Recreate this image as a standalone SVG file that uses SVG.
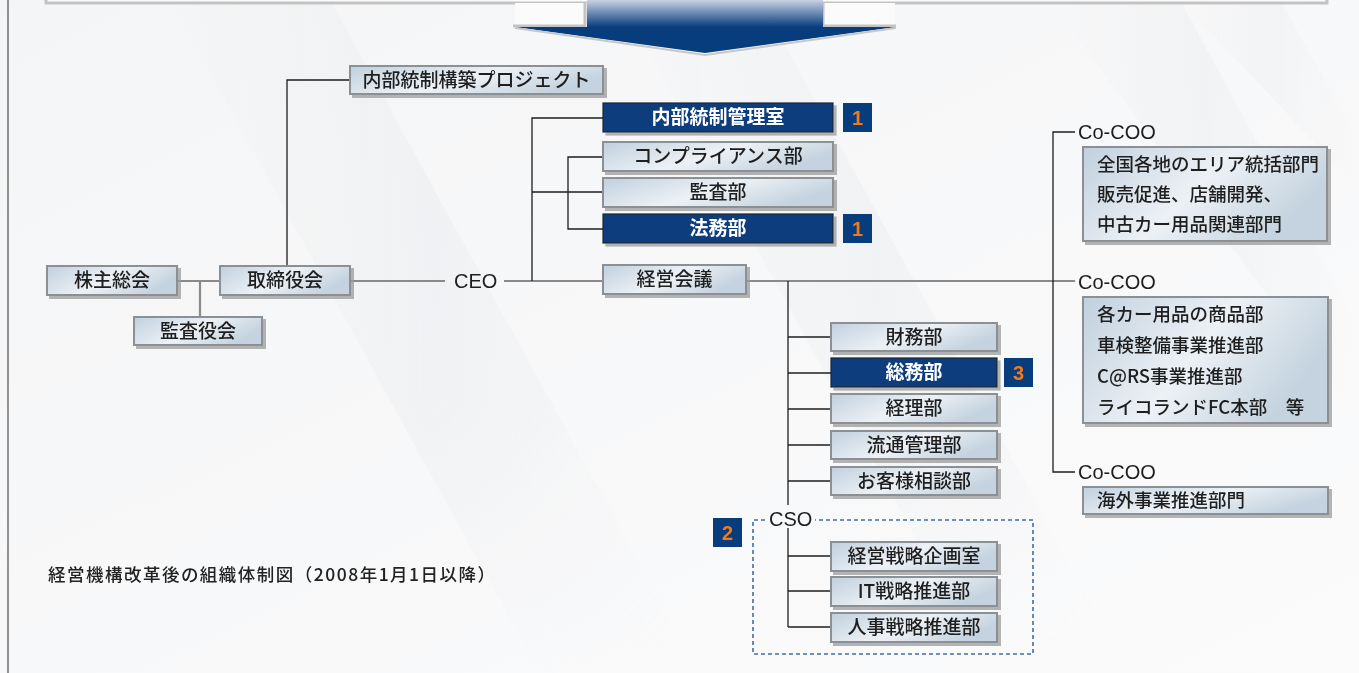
<svg xmlns="http://www.w3.org/2000/svg" width="1359" height="673" viewBox="0 0 1359 673">
<defs>
<linearGradient id="bg" x1="0" y1="0" x2="1" y2="1">
<stop offset="0" stop-color="#f4f5f6"/><stop offset="1" stop-color="#fbfbfc"/>
</linearGradient>
<linearGradient id="band" x1="0" y1="0" x2="1" y2="0">
<stop offset="0" stop-color="#e9ecef" stop-opacity="0"/><stop offset="0.5" stop-color="#e6e9ec" stop-opacity="0.8"/><stop offset="1" stop-color="#e9ecef" stop-opacity="0"/>
</linearGradient>
<linearGradient id="fade" x1="0" y1="0" x2="0" y2="1">
<stop offset="0" stop-color="#fff"/><stop offset="0.6" stop-color="#fff"/><stop offset="1" stop-color="#000"/>
</linearGradient>
<mask id="fm"><rect x="0" y="0" width="1359" height="673" fill="url(#fade)"/></mask>
<linearGradient id="lb" x1="0" y1="0" x2="1" y2="0.4">
<stop offset="0" stop-color="#c0d0de"/><stop offset="0.55" stop-color="#edf1f5"/><stop offset="1" stop-color="#c4d3df"/>
</linearGradient>
<linearGradient id="arr" x1="0" y1="0" x2="0" y2="1">
<stop offset="0" stop-color="#c9d1e2"/><stop offset="1" stop-color="#083e80"/>
</linearGradient>
<filter id="sh" x="-5%" y="-20%" width="115%" height="150%">
<feOffset dx="3" dy="3" in="SourceAlpha" result="o"/>
<feFlood flood-color="#9a9a9a" flood-opacity="0.75"/>
<feComposite in2="o" operator="in"/>
<feMerge><feMergeNode/><feMergeNode in="SourceGraphic"/></feMerge>
</filter>
</defs>
<style>
.light{fill:url(#lb);stroke:#8b9095;stroke-width:2;filter:url(#sh)}
.dark{fill:#073c7d;stroke:#1d2430;stroke-width:1.2;filter:url(#sh)}
.badge{fill:#073c7d}
.lt{font-family:"Noto Sans CJK JP","Noto Sans CJK SC",sans-serif;font-size:19px;font-weight:500;fill:#1e1e1e;text-anchor:middle}
.dt{font-family:"Noto Sans CJK JP","Noto Sans CJK SC",sans-serif;font-size:19px;font-weight:700;fill:#fff;text-anchor:middle}
.bt{font-family:"Liberation Sans","Noto Sans",sans-serif;font-size:20px;font-weight:700;fill:#f07b1c;text-anchor:middle}
.rt{font-family:"Noto Sans CJK JP","Noto Sans CJK SC",sans-serif;font-size:18.5px;font-weight:500;fill:#1e1e1e}
.lat{font-family:"Liberation Sans","Noto Sans",sans-serif;font-size:20px;fill:#1e1e1e}
.k{stroke:#1e1e1e;stroke-width:1.3;fill:none}
.g{stroke:#8a8a8a;stroke-width:2.2;fill:none}
</style>
<rect x="0" y="0" width="1359" height="673" fill="url(#bg)"/>
<g id="background" mask="url(#fm)">
<polygon points="170,0 330,0 700,673 540,673" fill="url(#band)" opacity="0.5"/>
<polygon points="620,0 760,0 1130,673 990,673" fill="url(#band)" opacity="0.45"/>
<polygon points="1050,0 1180,0 1359,330 1359,420" fill="url(#band)" opacity="0.45"/>
<polygon points="1180,0 1280,0 1359,140 1359,190" fill="url(#band)" opacity="0.35"/>
</g>
<line x1="8" y1="0" x2="8" y2="673" stroke="#6f6f6f" stroke-width="1.5"/>
<g id="top-frame">
<rect x="46" y="-12" width="1281" height="15" fill="#fbfbfb" stroke="#c3c3c3" stroke-width="3"/>
<rect x="515" y="3" width="380" height="23" fill="#fbfbfb"/>
<polyline points="513,26 585,26 585,3" fill="none" stroke="#c3c3c3" stroke-width="3"/>
<polyline points="823,3 823,26 896,26" fill="none" stroke="#c3c3c3" stroke-width="3"/>
<rect x="587" y="0" width="236" height="27" fill="url(#arr)"/>
<polygon points="515,27 896,27 705,53" fill="#073c7d"/>
<polyline points="515,28 705,55 896,28" fill="none" stroke="#c8c8c8" stroke-width="2"/>
</g>
<g id="connectors">
<line class="g" x1="177" y1="281" x2="220" y2="281"/>
<line class="g" x1="200" y1="281" x2="200" y2="317"/>
<line class="g" x1="350" y1="281" x2="445" y2="281"/>
<line class="g" x1="504" y1="281" x2="603" y2="281"/>
<line class="g" x1="747" y1="281" x2="1075" y2="281"/>
<polyline class="k" points="350,80 287,80 287,266"/>
<polyline class="k" points="603,118 532,118 532,281"/>
<line class="k" x1="532" y1="192" x2="603" y2="192"/>
<polyline class="k" points="603,157 568,157 568,229 603,229"/>
<polyline class="k" points="1075,132 1053,132 1053,472 1075,472"/>
<line class="k" x1="788" y1="281" x2="788" y2="505"/>
<line class="k" x1="788" y1="337" x2="831" y2="337"/>
<line class="k" x1="788" y1="373" x2="831" y2="373"/>
<line class="k" x1="788" y1="409" x2="831" y2="409"/>
<line class="k" x1="788" y1="445" x2="831" y2="445"/>
<line class="k" x1="788" y1="481" x2="831" y2="481"/>
<line class="k" x1="788" y1="528" x2="788" y2="627"/>
<line class="k" x1="788" y1="556" x2="831" y2="556"/>
<line class="k" x1="788" y1="591" x2="831" y2="591"/>
<line class="k" x1="788" y1="627" x2="831" y2="627"/>
<path d="M765 520 H753 V654 H1033 V520 H815" fill="none" stroke="#3c6fa8" stroke-width="1.6" stroke-dasharray="4 3"/>
</g>
<g id="n-kabunushi"><rect class="light" x="47" y="266" width="130" height="29"/><text class="lt" x="112" y="287">株主総会</text></g>
<g id="n-torishimari"><rect class="light" x="220" y="266" width="130" height="29"/><text class="lt" x="285" y="287">取締役会</text></g>
<g id="n-kansayaku"><rect class="light" x="134" y="317" width="128" height="28"/><text class="lt" x="198" y="337.5">監査役会</text></g>
<g id="n-project"><rect class="light" x="350" y="66" width="253" height="28"/><text class="lt" x="476.5" y="86.5">内部統制構築プロジェクト</text></g>
<g id="n-ceo"><text class="lat" x="454" y="288">CEO</text></g>
<g id="n-naibu"><rect class="dark" x="603" y="103" width="230" height="29"/><text class="dt" x="718" y="124">内部統制管理室</text><rect class="badge" x="843" y="103" width="29" height="29"/><text class="bt" x="857.5" y="125">1</text></g>
<g id="n-compliance"><rect class="light" x="603" y="142" width="230" height="29"/><text class="lt" x="718" y="163">コンプライアンス部</text></g>
<g id="n-kansa"><rect class="light" x="603" y="178" width="230" height="29"/><text class="lt" x="718" y="199">監査部</text></g>
<g id="n-houmu"><rect class="dark" x="603" y="214" width="230" height="29"/><text class="dt" x="718" y="235">法務部</text><rect class="badge" x="843" y="214" width="29" height="29"/><text class="bt" x="857.5" y="236">1</text></g>
<g id="n-keiei"><rect class="light" x="603" y="265" width="143" height="29"/><text class="lt" x="674.5" y="286">経営会議</text></g>
<g id="n-zaimu"><rect class="light" x="831" y="323" width="166" height="28"/><text class="lt" x="914" y="343.5">財務部</text></g>
<g id="n-soumu"><rect class="dark" x="831" y="358" width="166" height="29"/><text class="dt" x="914" y="379">総務部</text><rect class="badge" x="1004" y="358" width="29" height="29"/><text class="bt" x="1018.5" y="380">3</text></g>
<g id="n-keiri"><rect class="light" x="831" y="394" width="166" height="29"/><text class="lt" x="914" y="415">経理部</text></g>
<g id="n-ryutsu"><rect class="light" x="831" y="431" width="166" height="28"/><text class="lt" x="914" y="451.5">流通管理部</text></g>
<g id="n-okyaku"><rect class="light" x="831" y="467" width="166" height="28"/><text class="lt" x="914" y="487.5">お客様相談部</text></g>
<g id="n-cso"><text class="lat" x="769" y="526">CSO</text><rect class="badge" x="713" y="518" width="29" height="29"/><text class="bt" x="727.5" y="540">2</text></g>
<g id="n-senryaku"><rect class="light" x="831" y="542" width="166" height="29"/><text class="lt" x="914" y="563">経営戦略企画室</text></g>
<g id="n-it"><rect class="light" x="831" y="577" width="166" height="29"/><text class="lt" x="914" y="598">IT戦略推進部</text></g>
<g id="n-jinji"><rect class="light" x="831" y="613" width="166" height="29"/><text class="lt" x="914" y="634">人事戦略推進部</text></g>
<g id="n-coo1"><text class="lat" x="1078" y="138.5">Co-COO</text><rect class="light" x="1083" y="147" width="244" height="94"/>
<text class="rt" x="1097" y="171">全国各地のエリア統括部門</text><text class="rt" x="1097" y="201">販売促進、店舗開発、</text><text class="rt" x="1097" y="231">中古カー用品関連部門</text></g>
<g id="n-coo2"><text class="lat" x="1078" y="288.5">Co-COO</text><rect class="light" x="1083" y="297" width="245" height="126"/>
<text class="rt" x="1097" y="321">各カー用品の商品部</text><text class="rt" x="1097" y="352">車検整備事業推進部</text><text class="rt" x="1097" y="383">C@RS事業推進部</text><text class="rt" x="1097" y="414">ライコランドFC本部　等</text></g>
<g id="n-coo3"><text class="lat" x="1078" y="478.5">Co-COO</text><rect class="light" x="1083" y="487" width="245" height="27"/><text class="rt" x="1097" y="507">海外事業推進部門</text></g>
<g id="caption"><text x="48" y="581" font-family="'Noto Sans CJK JP','Noto Sans CJK SC',sans-serif" font-size="17.5" font-weight="500" fill="#222" textLength="447" lengthAdjust="spacing">経営機構改革後の組織体制図（2008年1月1日以降）</text></g>
</svg>
